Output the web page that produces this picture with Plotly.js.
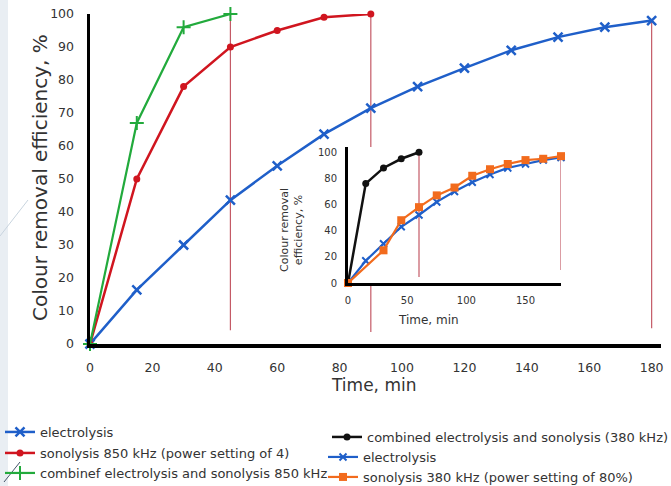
<!DOCTYPE html>
<html>
<head>
<meta charset="utf-8">
<script src="https://cdn.plot.ly/plotly-3.0.1.min.js"></script>
<style>html,body{margin:0;padding:0;background:#fff;}#chart{width:671px;height:486px;}</style>
</head>
<body>
<div id="chart"></div>
<script>
// Main chart data
const mainTime = [0, 15, 30, 45, 60, 75, 90, 105, 120, 135, 150, 165, 180];
const electrolysisMain = [0, 16.4, 30, 43.6, 54, 63.6, 71.5, 78, 83.6, 89, 93, 96, 98];
const sono850Time = [0, 15, 30, 45, 60, 75, 90];
const sono850 = [0, 50, 78, 90, 95, 99, 100];
const combo850Time = [0, 15, 30, 45];
const combo850 = [0, 67, 96, 100];

// Inset data
const combo380Time = [0, 15, 30, 45, 60];
const combo380 = [0, 76, 88, 95, 100];
const electrolysisInsetTime = [0, 15, 30, 45, 60, 75, 90, 105, 120, 135, 150, 165, 180];
const electrolysisInset = [0, 17, 30, 43, 52, 62, 70, 77, 83, 88, 91, 94, 96];
const sono380Time = [0, 30, 45, 60, 75, 90, 105, 120, 135, 150, 165, 180];
const sono380 = [0, 25, 48, 58, 67, 73, 82, 87, 91, 94, 95, 97];

// Axis tick values
const mainXTicks = [0, 20, 40, 60, 80, 100, 120, 140, 160, 180];
const mainYTicks = [0, 10, 20, 30, 40, 50, 60, 70, 80, 90, 100];
const insetXTicks = [0, 50, 100, 150];
const insetYTicks = [0, 20, 40, 60, 80, 100];

// Drop lines (time, low, high)
const mainDrops = [[45, 4.2, 100], [90, 3.6, 100], [180, 4.8, 98]];
const insetDrops = [[60, 4.6, 100], [180, 10, 97.7]];

const BLUE = '#1f5fc9', RED = '#d0151f', GREEN = '#22aa3c', ORANGE = '#f26b1d', BLACK = '#111111';
const FONT = 'DejaVu Sans, Verdana, sans-serif';

const traces = [
  {x: mainTime, y: electrolysisMain, name: 'electrolysis', mode: 'lines+markers',
   line: {color: BLUE, width: 2.5}, marker: {symbol: 'x-thin-open', size: 9, line: {color: BLUE, width: 2.5}, color: BLUE},
   xaxis: 'x', yaxis: 'y', legend: 'legend', cliponaxis: false},
  {x: sono850Time, y: sono850, name: 'sonolysis 850 kHz (power setting of 4)', mode: 'lines+markers',
   line: {color: RED, width: 2.5}, marker: {symbol: 'circle', size: 7, color: RED},
   xaxis: 'x', yaxis: 'y', legend: 'legend2', cliponaxis: false},
  {x: combo850Time, y: combo850, name: 'combinef electrolysis and sonolysis 850 kHz', mode: 'lines+markers',
   line: {color: GREEN, width: 2.2}, marker: {symbol: 'cross-thin-open', size: 10, line: {color: GREEN, width: 2}, color: GREEN},
   xaxis: 'x', yaxis: 'y', legend: 'legend3', cliponaxis: false},
  {x: combo380Time, y: combo380, name: 'combined electrolysis and sonolysis (380 kHz)', mode: 'lines+markers',
   line: {color: BLACK, width: 2.5}, marker: {symbol: 'circle', size: 7, color: BLACK},
   xaxis: 'x2', yaxis: 'y2', legend: 'legend4', cliponaxis: false},
  {x: electrolysisInsetTime, y: electrolysisInset, name: 'electrolysis', mode: 'lines+markers',
   line: {color: BLUE, width: 2.2}, marker: {symbol: 'x-thin-open', size: 7, line: {color: BLUE, width: 2}, color: BLUE},
   xaxis: 'x2', yaxis: 'y2', legend: 'legend5', cliponaxis: false},
  {x: sono380Time, y: sono380, name: 'sonolysis 380 kHz (power setting of 80%)', mode: 'lines+markers',
   line: {color: ORANGE, width: 2.2}, marker: {symbol: 'square', size: 8, color: ORANGE},
   xaxis: 'x2', yaxis: 'y2', legend: 'legend6', cliponaxis: false}
];

// pixel helpers for paper coordinates (plot area: x 90..661, y 14..344)
const px = v => (v - 90) / 571;
const py = v => (344 - v) / 330;

const shapes = [];
shapes.push({type: 'rect', xref: 'paper', yref: 'paper', x0: px(0), x1: px(8), y0: py(486), y1: py(0),
  fillcolor: '#e9eef3', line: {width: 0}, layer: 'below'});
shapes.push({type: 'line', xref: 'paper', yref: 'paper', x0: px(0), x1: px(28), y0: py(236), y1: py(200),
  line: {color: '#c8d4de', width: 1}});
shapes.push({type: 'line', xref: 'paper', yref: 'paper', x0: px(4), x1: px(20), y0: py(482), y1: py(462),
  line: {color: '#44556a', width: 1}});
mainDrops.forEach(d => shapes.push({type: 'line', xref: 'x', yref: 'y', x0: d[0], x1: d[0], y0: d[1], y1: d[2],
  line: {color: '#c45a66', width: 1.2}, layer: 'below'}));
insetDrops.forEach(d => shapes.push({type: 'line', xref: 'x2', yref: 'y2', x0: d[0], x1: d[0], y0: d[1], y1: d[2],
  line: {color: '#c45a66', width: 1.2}, layer: 'below'}));

const tickFont = {family: FONT, size: 12.5, color: '#333'};
const insetTickFont = {family: FONT, size: 10, color: '#333'};
const legendFont = {family: FONT, size: 13, color: '#333'};

function legendAt(textX, centerY) {
  return {x: px(textX - 40), xanchor: 'left', y: py(centerY), yanchor: 'middle', font: legendFont,
    bgcolor: 'rgba(0,0,0,0)', borderwidth: 0, itemwidth: 30};
}

const layout = {
  width: 671, height: 486,
  margin: {l: 90, r: 10, t: 14, b: 142, autoexpand: false},
  paper_bgcolor: '#ffffff', plot_bgcolor: '#ffffff',
  showlegend: true,
  xaxis: {range: [0, 183], tickvals: mainXTicks, showgrid: false, zeroline: false, showline: true,
    linecolor: '#000', linewidth: 3.5, ticks: 'outside', ticklen: 9, tickcolor: 'rgba(0,0,0,0)',
    tickfont: tickFont, domain: [0, 1], anchor: 'y', fixedrange: true},
  yaxis: {range: [0, 100], tickvals: mainYTicks, showgrid: false, zeroline: false, showline: true,
    linecolor: '#000', linewidth: 3.5, ticks: 'outside', ticklen: 10, tickcolor: 'rgba(0,0,0,0)',
    tickfont: tickFont, domain: [0, 1], anchor: 'x', fixedrange: true},
  xaxis2: {range: [0, 180], tickvals: insetXTicks, showgrid: false, zeroline: false, showline: true,
    linecolor: '#000', linewidth: 3, ticks: 'outside', ticklen: 6, tickcolor: 'rgba(0,0,0,0)',
    tickfont: insetTickFont, domain: [px(348), px(561)], anchor: 'y2', fixedrange: true},
  yaxis2: {range: [0, 104], tickvals: insetYTicks, showgrid: false, zeroline: false, showline: true,
    linecolor: '#000', linewidth: 3, ticks: 'outside', ticklen: 6, tickcolor: 'rgba(0,0,0,0)',
    tickfont: insetTickFont, domain: [py(283), py(147)], anchor: 'x2', fixedrange: true},
  legend: legendAt(40, 432),
  legend2: legendAt(40, 453),
  legend3: legendAt(40, 473),
  legend4: legendAt(367, 437),
  legend5: legendAt(363, 457),
  legend6: legendAt(363, 477),
  shapes: shapes,
  annotations: [
    {text: 'Colour removal efficiency, %', xref: 'paper', yref: 'paper', x: px(40), y: py(178),
     xanchor: 'center', yanchor: 'middle',
     textangle: -90, showarrow: false, font: {family: FONT, size: 20, color: '#333'}},
    {text: 'Time, min', xref: 'paper', yref: 'paper', x: px(373), y: py(385),
     xanchor: 'center', yanchor: 'middle',
     showarrow: false, font: {family: FONT, size: 17, color: '#333'}},
    {text: 'Colour removal<br>efficiency, %', xref: 'paper', yref: 'paper', x: px(291), y: py(230),
     xanchor: 'center', yanchor: 'middle',
     textangle: -90, showarrow: false, font: {family: FONT, size: 11, color: '#333'}},
    {text: 'Time, min', xref: 'paper', yref: 'paper', x: px(428), y: py(320),
     xanchor: 'center', yanchor: 'middle',
     showarrow: false, font: {family: FONT, size: 12, color: '#333'}}
  ]
};

Plotly.newPlot('chart', traces, layout, {displayModeBar: false, staticPlot: true});
</script>
</body>
</html>
